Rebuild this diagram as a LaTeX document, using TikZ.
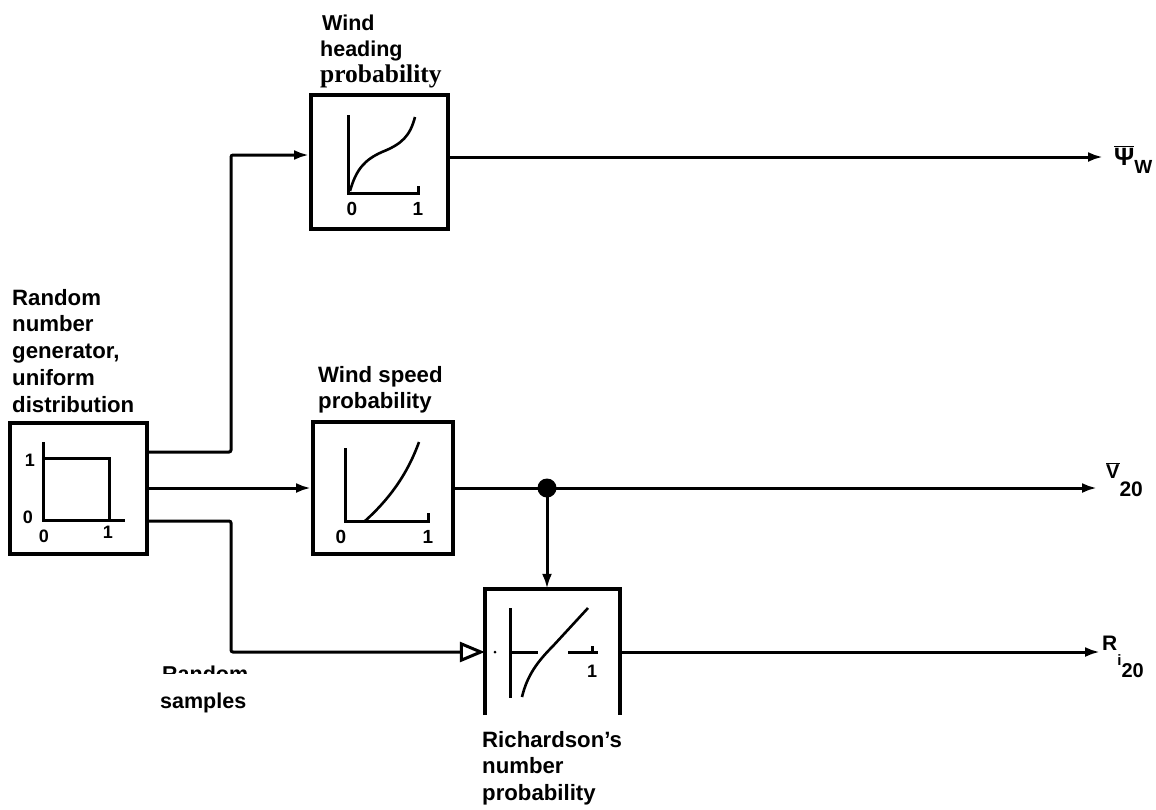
\documentclass[tikz,border=0pt]{standalone}
\usepackage{fontspec}
\setmainfont{Liberation Sans}
\newfontfamily\serifb{Liberation Serif}
\usetikzlibrary{arrows.meta,calc}
\begin{document}
\begin{tikzpicture}[x=1pt,y=-1pt,
  lab/.style={font=\bfseries\fontsize{22.2}{26.7}\selectfont, align=left, inner sep=0pt, anchor=north west},
  onelab/.style={font=\bfseries\fontsize{21.5}{21.5}\selectfont, inner sep=0pt, anchor=base west},
  box/.style={draw, line width=4pt, rectangle, inner sep=0pt},
  conn/.style={line width=3pt},
  tip/.style={-{Latex[length=15pt,width=10pt]}},
  axis/.style={line width=3pt},
  crv/.style={line width=2.6pt},
  digit/.style={font=\bfseries\fontsize{19}{19}\selectfont, inner sep=0pt},
  sdigit/.style={font=\bfseries\fontsize{18}{18}\selectfont, inner sep=0pt}]
\useasboundingbox (0,0) rectangle (1156,809);
\fill[white] (0,0) rectangle (1156,809);

% boxes
\node[box, minimum width=137pt, minimum height=131pt] (rng) at (78.5,488) {};
\node[box, minimum width=137pt, minimum height=134pt] (heading) at (379.5,162) {};
\node[box, minimum width=140pt, minimum height=132pt] (speed) at (383,488) {};
\node[inner sep=0pt, minimum width=135pt, minimum height=126pt] (rich) at (552.5,652) {};
\draw[line width=4pt] (rich.south west) -- (rich.north west) -- (rich.north east) -- (rich.south east);

% labels
\node[lab] (rnglab) at (12,289) {Random\\number\\generator,\\uniform\\distribution};
\node[onelab] (hl1) at (322,30) {Wind};
\node[onelab] (hl2) at (320,56) {heading};
\node[inner sep=0pt, anchor=base west, font=\serifb\bfseries\fontsize{25.5}{25.5}\selectfont] (hl3) at (320,82) {probability};
\node[lab] (speedlab) at (318,366) {Wind speed\\probability};
\node[lab] (richlab) at (482,731) {Richardson's\\number\\probability};
\begin{scope}
\clip (0,0) rectangle (1156,673);
\node[onelab] (rs1) at (162,681) {Random};
\end{scope}
\node[onelab] (rs2) at (160,708) {samples};

% RNG graph
\draw[axis] (43,442) -- (43,520) -- (125,520);
\draw[axis] (43,458) -- (109,458) -- (109,522);
\node[sdigit] (r1) at (30,460) {1};
\node[sdigit] (r0) at (28,517) {0};
\node[sdigit] (r0b) at (44,536) {0};
\node[sdigit] (r1b) at (108,532) {1};

% heading graph
\draw[axis] (348,115) -- (348,193) -- (418,193) -- (418,186);
\draw[crv] (350,191) .. controls (356,170) and (364,160) .. (382,152) .. controls (402,144) and (410,136) .. (415,117);
\node[digit] (h0) at (352,209) {0};
\node[digit] (h1) at (418,209) {1};

% speed graph
\draw[axis] (345,448) -- (345,521) -- (428,521) -- (428,513);
\draw[crv] (365,521) .. controls (386,502) and (406,478) .. (419,442);
\node[digit] (s0) at (341,537) {0};
\node[digit] (s1) at (428,537) {1};

% Richardson graph
\draw[axis] (510,608) -- (510,698);
\fill (495,652) circle (1.5);
\draw[axis] (510,652) -- (538,652);
\draw[axis] (568,652) -- (598,652);
\draw[axis] (592,652) -- (592,646);
\draw[crv] (522,697) .. controls (527,676) and (537,662) .. (553,646) -- (588,608);
\node[sdigit] (ri1) at (592,671) {1};

% connectors
\coordinate (wout) at (1103,157);
\coordinate (vout) at (1097,488);
\coordinate (rout) at (1100,652);
\coordinate (junc) at (547,488);

\draw[conn, tip, rounded corners=2pt] ([yshift=36pt]rng.east) -- ++(82,0) |- ([yshift=7pt]heading.west);
\draw[conn, tip] (rng.east) -- (speed.west);
\draw[conn, -{Triangle[open,length=25pt,width=20pt]}, rounded corners=2pt] ([yshift=-33pt]rng.east) -- ++(82,0) |- (rich.west);
\draw[conn, tip] ([yshift=5pt]heading.east) -- (wout);
\draw[conn, tip] (speed.east) -- (vout);
\draw[conn, tip] (junc) -- (junc |- rich.north);
\fill (junc) circle (9.5);
\draw[conn, tip] (rich.east) -- (rout);

% output labels
\node[inner sep=0pt, anchor=base west] (wlab) at (1114,165) {\fontsize{25}{25}\selectfont$\overline{\mbox{\bfseries Ψ}}$\raisebox{-8pt}{\bfseries\fontsize{19}{19}\selectfont W}};
\node[inner sep=0pt, anchor=base west] (vlab) at (1106,478) {\fontsize{20}{20}\selectfont$\overline{\mbox{\bfseries V}}$\raisebox{-18pt}{\bfseries\fontsize{21}{21}\selectfont 20}};
\node[inner sep=0pt, anchor=base west] (rlab) at (1102,650) {\bfseries\fontsize{21}{21}\selectfont R\raisebox{-15pt}{\fontsize{15}{15}\selectfont i\raisebox{-12pt}{\fontsize{20}{20}\selectfont 20}}};
\end{tikzpicture}
\end{document}
